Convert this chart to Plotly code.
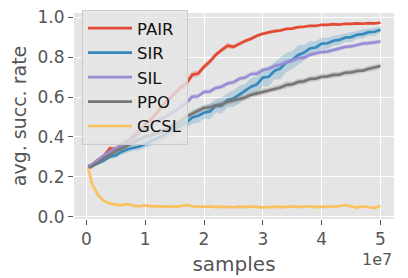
import plotly.graph_objects as go

# samples in units of 1e7
samples = [0.03, 0.1, 0.2, 0.3, 0.4, 0.5, 0.6, 0.7, 0.8, 0.9,
           1.0, 1.1, 1.2, 1.3, 1.4, 1.5, 1.6, 1.7, 1.8, 1.9,
           2.0, 2.1, 2.2, 2.3, 2.4, 2.5, 2.6, 2.7, 2.8, 2.9,
           3.0, 3.1, 3.2, 3.3, 3.4, 3.5, 3.6, 3.7, 3.8, 3.9,
           4.0, 4.1, 4.2, 4.3, 4.4, 4.5, 4.6, 4.7, 4.8, 4.9, 5.0]

pair_mean = [0.250, 0.262, 0.285, 0.305, 0.342, 0.338, 0.362, 0.378, 0.405, 0.428,
             0.462, 0.488, 0.521, 0.558, 0.586, 0.618, 0.648, 0.668, 0.712, 0.718,
             0.752, 0.778, 0.812, 0.836, 0.858, 0.852, 0.868, 0.882, 0.893, 0.908,
             0.918, 0.926, 0.931, 0.934, 0.942, 0.944, 0.951, 0.953, 0.958, 0.957,
             0.963, 0.962, 0.966, 0.964, 0.968, 0.967, 0.970, 0.968, 0.971, 0.970, 0.973]
pair_std = [0.005, 0.010, 0.012, 0.012, 0.014, 0.013, 0.015, 0.014, 0.016, 0.015,
            0.016, 0.017, 0.016, 0.018, 0.017, 0.016, 0.018, 0.020, 0.017, 0.016,
            0.015, 0.014, 0.013, 0.012, 0.014, 0.012, 0.011, 0.010, 0.010, 0.009,
            0.009, 0.008, 0.008, 0.008, 0.007, 0.007, 0.007, 0.007, 0.006, 0.006,
            0.006, 0.006, 0.006, 0.005, 0.005, 0.005, 0.005, 0.005, 0.005, 0.005, 0.005]

sir_mean = [0.250, 0.256, 0.268, 0.282, 0.301, 0.308, 0.326, 0.338, 0.346, 0.352,
            0.364, 0.376, 0.392, 0.405, 0.423, 0.438, 0.458, 0.472, 0.498, 0.506,
            0.521, 0.528, 0.556, 0.558, 0.585, 0.592, 0.612, 0.628, 0.652, 0.664,
            0.698, 0.702, 0.732, 0.744, 0.774, 0.786, 0.811, 0.823, 0.844, 0.849,
            0.868, 0.870, 0.883, 0.887, 0.898, 0.901, 0.913, 0.916, 0.926, 0.928, 0.938]
sir_std = [0.005, 0.008, 0.010, 0.012, 0.012, 0.014, 0.015, 0.016, 0.015, 0.018,
           0.020, 0.020, 0.022, 0.025, 0.024, 0.026, 0.030, 0.028, 0.032, 0.035,
           0.030, 0.038, 0.034, 0.040, 0.036, 0.042, 0.045, 0.038, 0.044, 0.040,
           0.046, 0.050, 0.042, 0.055, 0.048, 0.044, 0.050, 0.040, 0.036, 0.032,
           0.030, 0.028, 0.025, 0.026, 0.022, 0.024, 0.020, 0.022, 0.018, 0.020, 0.015]

sil_mean = [0.255, 0.262, 0.283, 0.308, 0.326, 0.342, 0.358, 0.381, 0.392, 0.418,
            0.442, 0.458, 0.481, 0.494, 0.512, 0.528, 0.551, 0.572, 0.602, 0.604,
            0.626, 0.628, 0.646, 0.652, 0.668, 0.674, 0.692, 0.698, 0.716, 0.718,
            0.736, 0.742, 0.756, 0.762, 0.776, 0.782, 0.796, 0.798, 0.812, 0.818,
            0.826, 0.828, 0.836, 0.841, 0.852, 0.854, 0.862, 0.868, 0.871, 0.874, 0.879]
sil_std = [0.005, 0.008, 0.010, 0.010, 0.012, 0.011, 0.012, 0.013, 0.012, 0.014,
           0.013, 0.012, 0.014, 0.013, 0.012, 0.014, 0.013, 0.015, 0.012, 0.013,
           0.012, 0.014, 0.012, 0.013, 0.011, 0.012, 0.013, 0.012, 0.011, 0.013,
           0.012, 0.011, 0.012, 0.013, 0.012, 0.011, 0.012, 0.011, 0.012, 0.010,
           0.011, 0.012, 0.010, 0.011, 0.010, 0.012, 0.010, 0.011, 0.010, 0.011, 0.010]

ppo_mean = [0.240, 0.252, 0.271, 0.292, 0.312, 0.328, 0.342, 0.356, 0.372, 0.384,
            0.402, 0.408, 0.421, 0.428, 0.442, 0.461, 0.478, 0.502, 0.518, 0.532,
            0.546, 0.549, 0.558, 0.563, 0.576, 0.583, 0.592, 0.598, 0.611, 0.618,
            0.627, 0.633, 0.642, 0.648, 0.661, 0.664, 0.676, 0.679, 0.691, 0.693,
            0.702, 0.704, 0.711, 0.713, 0.722, 0.724, 0.731, 0.733, 0.742, 0.748, 0.756]
ppo_std = [0.005, 0.008, 0.010, 0.012, 0.013, 0.012, 0.014, 0.012, 0.015, 0.013,
           0.014, 0.016, 0.013, 0.015, 0.014, 0.016, 0.018, 0.015, 0.016, 0.014,
           0.016, 0.018, 0.015, 0.020, 0.016, 0.015, 0.018, 0.014, 0.016, 0.015,
           0.017, 0.014, 0.016, 0.015, 0.018, 0.014, 0.016, 0.015, 0.014, 0.016,
           0.015, 0.014, 0.016, 0.013, 0.015, 0.014, 0.016, 0.013, 0.015, 0.016, 0.014]

gcsl_mean = [0.245, 0.162, 0.108, 0.079, 0.066, 0.060, 0.058, 0.063, 0.055, 0.052,
             0.056, 0.051, 0.053, 0.050, 0.052, 0.049, 0.053, 0.058, 0.052, 0.050,
             0.049, 0.051, 0.048, 0.050, 0.049, 0.047, 0.050, 0.048, 0.051, 0.047,
             0.046, 0.048, 0.050, 0.047, 0.049, 0.051, 0.048, 0.050, 0.052, 0.048,
             0.049, 0.047, 0.050, 0.052, 0.058, 0.050, 0.045, 0.052, 0.049, 0.043, 0.055]
gcsl_std = [0.004, 0.008, 0.007, 0.006, 0.006, 0.005, 0.006, 0.006, 0.005, 0.006,
            0.005, 0.006, 0.005, 0.006, 0.005, 0.006, 0.005, 0.006, 0.005, 0.006,
            0.005, 0.006, 0.005, 0.006, 0.005, 0.006, 0.005, 0.006, 0.005, 0.006,
            0.005, 0.006, 0.005, 0.006, 0.005, 0.006, 0.005, 0.006, 0.005, 0.006,
            0.005, 0.006, 0.005, 0.006, 0.005, 0.006, 0.005, 0.006, 0.005, 0.006, 0.005]

series_names = ["PAIR", "SIR", "SIL", "PPO", "GCSL"]
series_means = [pair_mean, sir_mean, sil_mean, ppo_mean, gcsl_mean]
series_stds = [pair_std, sir_std, sil_std, ppo_std, gcsl_std]
series_colors = ["#E24A33", "#348ABD", "#988ED5", "#777777", "#FBC15E"]
band_alpha = [0.25, 0.25, 0.25, 0.25, 0.25]

x_ticks = [0, 1, 2, 3, 4, 5]
y_ticks = [0.0, 0.2, 0.4, 0.6, 0.8, 1.0]


def rgba(hex_color, a):
    h = hex_color.lstrip("#")
    r, g, b = int(h[0:2], 16), int(h[2:4], 16), int(h[4:6], 16)
    return f"rgba({r},{g},{b},{a})"


fig = go.Figure()
for name, mean, std, color, a in zip(series_names, series_means, series_stds,
                                     series_colors, band_alpha):
    upper = [m + s for m, s in zip(mean, std)]
    lower = [m - s for m, s in zip(mean, std)]
    fig.add_trace(go.Scatter(
        x=samples + samples[::-1], y=upper + lower[::-1],
        fill="toself", fillcolor=rgba(color, a),
        line=dict(width=0), mode="lines", hoverinfo="skip", showlegend=False))
    fig.add_trace(go.Scatter(
        x=samples, y=mean, mode="lines", name=name,
        line=dict(color=color, width=2.7)))

FONT = "DejaVu Sans"
TXT = "#555555"

# the page body adds an 8px margin, so the figure is 8px smaller each way
fig.update_layout(
    width=400, height=270,
    margin=dict(l=66, r=14, t=5, b=59, autoexpand=False),
    paper_bgcolor="white", plot_bgcolor="#E5E5E5",
    font=dict(family=FONT, size=17, color=TXT),
    showlegend=True,
    legend=dict(
        x=0.025, y=1.0146, xanchor="left", yanchor="top",
        bgcolor="rgba(229,229,229,0.8)", bordercolor="#CCCCCC", borderwidth=1,
        font=dict(family=FONT, size=16.5, color="#111111"),
        itemwidth=44,
    ),
    xaxis=dict(
        range=[-0.21, 5.23], tickvals=x_ticks, ticktext=[str(t) for t in x_ticks],
        ticks="outside", ticklen=5, tickwidth=1, tickcolor=TXT,
        showgrid=True, gridcolor="white", gridwidth=1.2,
        zeroline=False, showline=False, automargin=False,
        ticklabeloverflow="allow",
        tickfont=dict(size=17, color=TXT),
        title=dict(text="samples", font=dict(size=20, color=TXT), standoff=8),
    ),
    yaxis=dict(
        range=[-0.012, 1.022], tickvals=y_ticks, tickformat=".1f",
        ticks="outside", ticklen=5, tickwidth=1, tickcolor=TXT,
        showgrid=True, gridcolor="white", gridwidth=1.2,
        zeroline=False, showline=False, automargin=False,
        ticklabeloverflow="allow",
        tickfont=dict(size=17, color=TXT),
        title=dict(text="avg. succ. rate", font=dict(size=19, color=TXT), standoff=12),
    ),
    annotations=[dict(
        text="1e7", xref="paper", yref="paper", x=1.0, y=-0.199,
        xanchor="right", yanchor="middle", showarrow=False,
        font=dict(family=FONT, size=16, color=TXT))],
)

fig.write_html("out.html")
